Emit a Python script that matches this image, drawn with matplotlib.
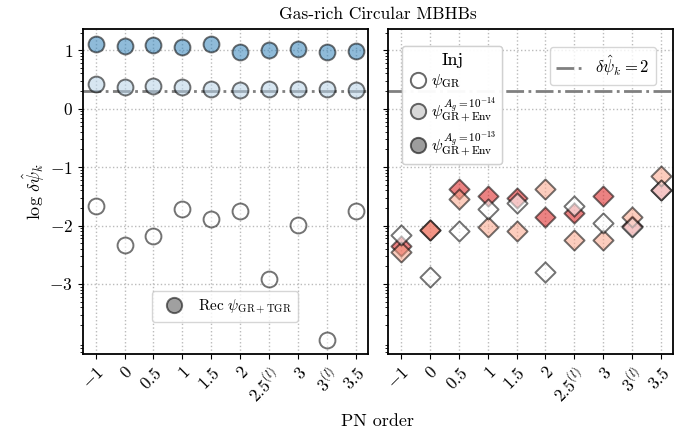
import numpy as np
import matplotlib
matplotlib.use('Agg')
import matplotlib.pyplot as plt
from matplotlib.lines import Line2D

plt.rcParams['font.family'] = 'serif'
plt.rcParams['font.serif'] = ['cmr10', 'DejaVu Serif']
plt.rcParams['mathtext.fontset'] = 'cm'
plt.rcParams['axes.formatter.use_mathtext'] = True
plt.rcParams['axes.unicode_minus'] = False

################################################################################
# Data (log10 of delta psi_k)
################################################################################
pn_labels = [r'$-1$', r'$0$', r'$0.5$', r'$1$', r'$1.5$', r'$2$',
             r'$2.5^{(l)}$', r'$3$', r'$3^{(l)}$', r'$3.5$']

# left panel: Rec psi_GR+TGR (circles)
circ_gr = [-1.665, -2.337, -2.183, -1.72, -1.88, -1.756, -2.918, -1.995, -3.95, -1.755]
circ_env14 = [0.427, 0.37, 0.38, 0.37, 0.34, 0.325, 0.33, 0.34, 0.33, 0.325]
circ_env13 = [1.10, 1.07, 1.08, 1.05, 1.11, 0.97, 1.0, 1.025, 0.97, 0.985]

# right panel: Rec psi_GR+Env+TGR (diamonds)
diam_gr = [-2.16, -2.88, -2.09, -1.72, -1.61, -2.79, -1.67, -1.955, -2.02, -1.39]
diam_env14 = [-2.46, -2.07, -1.54, -2.02, -2.10, -1.368, -2.25, -2.25, -1.85, -1.157]
diam_env13 = [-2.35, -2.08, -1.37, -1.50, -1.53, -1.853, -1.785, -1.50, -2.0, -1.385]

threshold = 2.0

################################################################################
# Plot
################################################################################
ALPHA = 0.55
blue_dark = '#3383ba'
blue_light = '#b6d2e7'
red_dark = '#db1c1c'
red_light = '#faa489'

fig, (axL, axR) = plt.subplots(1, 2, figsize=(6.88, 4.34), dpi=100, sharey=True)
fig.subplots_adjust(left=0.120, right=0.978, bottom=0.184, top=0.933, wspace=0.07)

x = np.arange(len(pn_labels))
ms_c = 130
ms_d = 105

def draw(ax, marker, s, vals_gr, vals14, vals13, c14, c13):
    ax.scatter(x, 10**np.array(vals13), s=s, marker=marker, facecolor=c13,
               edgecolor='k', linewidth=1.4, alpha=ALPHA, zorder=3)
    ax.scatter(x, 10**np.array(vals14), s=s, marker=marker, facecolor=c14,
               edgecolor='k', linewidth=1.4, alpha=ALPHA, zorder=3)
    ax.scatter(x, 10**np.array(vals_gr), s=s, marker=marker, facecolor='white',
               edgecolor='k', linewidth=1.4, alpha=ALPHA, zorder=3)
    ax.axhline(threshold, color='gray', linestyle='-.', linewidth=2, zorder=2)

draw(axL, 'o', ms_c, circ_gr, circ_env14, circ_env13, blue_light, blue_dark)
draw(axR, 'D', ms_d, diam_gr, diam_env14, diam_env13, red_light, red_dark)

axL.set_yscale('log')
axL.set_ylim(10**-4.2, 10**1.36)
major = [1e-3, 1e-2, 1e-1, 1e0, 1e1]
axL.set_yticks(major)
axL.set_yticklabels([r'$-3$', r'$-2$', r'$-1$', r'$0$', r'$1$'], fontsize=12.5)

for ax in (axL, axR):
    ax.set_xlim(-0.45, 9.4)
    ax.set_xticks(x)
    ax.set_xticklabels(pn_labels, rotation=45, ha='right', rotation_mode='anchor',
                       fontsize=12.5)
    ax.grid(True, which='major', linestyle=':', color='#bbbbbb', linewidth=1)
    ax.set_axisbelow(True)
    for sp in ax.spines.values():
        sp.set_linewidth(1.3)
axR.tick_params(axis='y', labelleft=False)

axL.set_ylabel(r'$\log\,\delta\hat{\psi}_k$', fontsize=13, labelpad=2)
fig.text(0.549, 0.968, 'Gas-rich Circular MBHBs', ha='center', va='center', fontsize=12.5)
fig.text(0.549, 0.03, 'PN order', ha='center', va='center', fontsize=13)

# legends
recL = Line2D([], [], marker='o', linestyle='none', ms=11, markerfacecolor='0.32',
              markeredgecolor='k', markeredgewidth=1.4, alpha=ALPHA)
axL.legend(handles=[recL], labels=[r'Rec $\psi_{\rm GR+TGR}$'], loc='lower center',
           bbox_to_anchor=(0.5, 0.098), borderaxespad=0, fontsize=11,
           handletextpad=0.6)

recR = Line2D([], [], marker='D', linestyle='none', ms=10, markerfacecolor='0.32',
              markeredgecolor='k', markeredgewidth=1.4, alpha=ALPHA)
axR.legend(handles=[recR], labels=[r'Rec $\psi_{\rm GR+Env+TGR}$'], loc='lower center',
           bbox_to_anchor=(0.555, 0.098), borderaxespad=0, fontsize=11,
           handletextpad=0.6)

inj_cols = ['white', '0.75', '0.36']
inj_handles = [Line2D([], [], marker='o', linestyle='none', ms=11, markerfacecolor=c,
                      markeredgecolor='k', markeredgewidth=1.4, alpha=ALPHA)
               for c in inj_cols]
inj_labels = [r'$\psi_{\rm GR}$',
              r'$\psi_{\rm GR+Env}^{A_g=10^{-14}}$',
              r'$\psi_{\rm GR+Env}^{A_g=10^{-13}}$']
leg_inj = axR.legend(handles=inj_handles, labels=inj_labels, title='Inj',
                     loc='upper left', bbox_to_anchor=(0.051, 0.948), borderaxespad=0,
                     fontsize=11.5, title_fontsize=13, handletextpad=0.2,
                     handlelength=1.2, borderpad=0.4, labelspacing=0.3)
axR.add_artist(leg_inj)

line_h = Line2D([], [], color='gray', linestyle='-.', linewidth=2)
leg_line = axR.legend(handles=[line_h], labels=[r'$\delta\hat{\psi}_k = 2$'],
                      loc='upper right', bbox_to_anchor=(0.9405, 0.945),
                      borderaxespad=0, fontsize=12, handlelength=1.5)
axR.add_artist(leg_inj)

fig.savefig('out.png', dpi=100)
plt.close()
